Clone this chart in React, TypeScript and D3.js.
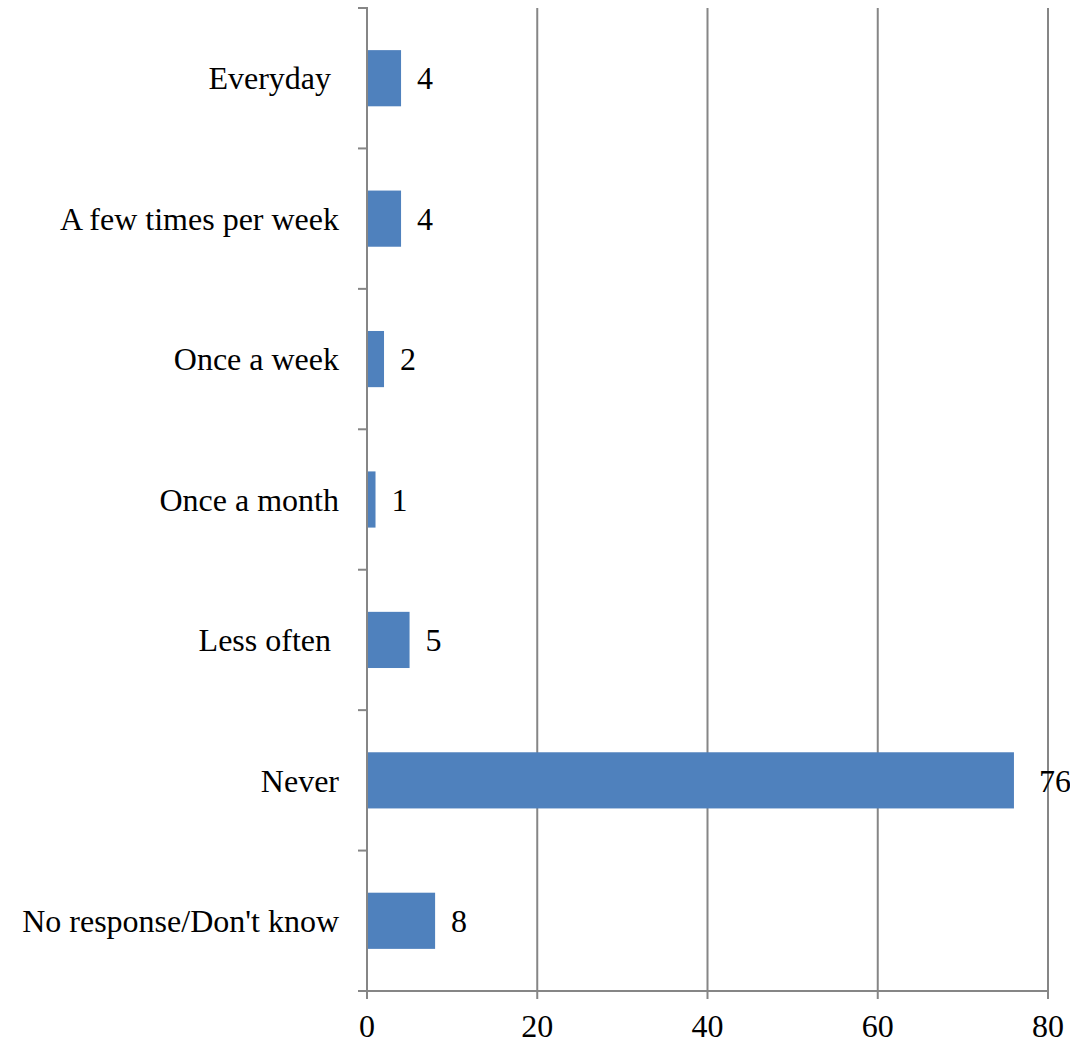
import React from "react";
import * as d3 from "d3";

const categories = [
  "Everyday ",
  "A few times per week",
  "Once a week",
  "Once a month",
  "Less often ",
  "Never",
  "No response/Don't know",
];
const values = [4, 4, 2, 1, 5, 76, 8];
const xTicks = [0, 20, 40, 60, 80];

const W = 1070;
const H = 1043;
const left = 367;
const right = 1048;
const top = 8;
const bottom = 991;
const axisColor = "#868686";
const barColor = "#4F81BD";
const font = "'Liberation Serif', 'Times New Roman', serif";
const fs = 32;

export default function App() {
  const x = d3.scaleLinear().domain([0, 80]).range([left, right]);
  const y = d3
    .scaleBand<string>()
    .domain(categories)
    .range([top, bottom])
    .paddingInner(0.6)
    .paddingOuter(0.3);
  const step = y.step();
  const boundaries = d3.range(categories.length + 1).map((i) => top + i * step);

  return (
    <svg
      width={W}
      height={H}
      style={{ position: "absolute", left: 0, top: 0, background: "#fff" }}
      fontFamily={font}
    >
      {xTicks.slice(1).map((t) => (
        <line key={"g" + t} x1={x(t)} x2={x(t)} y1={top} y2={bottom} stroke={axisColor} strokeWidth={2} />
      ))}
      <line x1={left - 9} x2={right} y1={bottom} y2={bottom} stroke={axisColor} strokeWidth={2} />
      {xTicks.map((t) => (
        <g key={"x" + t}>
          <line x1={x(t)} x2={x(t)} y1={bottom} y2={bottom + 8} stroke={axisColor} strokeWidth={2} />
          <text x={x(t)} y={1037} textAnchor="middle" fontSize={fs} fill="#000">
            {t}
          </text>
        </g>
      ))}
      {categories.map((c, i) => (
        <rect
          key={"b" + i}
          x={x(0)}
          y={y(c)}
          width={x(values[i]) - x(0)}
          height={y.bandwidth()}
          fill={barColor}
        />
      ))}
      <line x1={left} x2={left} y1={top - 1} y2={bottom + 8} stroke={axisColor} strokeWidth={2} />
      {boundaries.map((b, i) => (
        <line key={"t" + i} x1={left - 9} x2={left} y1={b} y2={b} stroke={axisColor} strokeWidth={2} />
      ))}
      {categories.map((c, i) => (
        <text
          key={"c" + i}
          x={339}
          y={(y(c) as number) + y.bandwidth() / 2}
          dy="0.35em"
          textAnchor="end"
          fontSize={fs}
          fill="#000"
          style={{ whiteSpace: "pre" }}
        >
          {c}
        </text>
      ))}
      {categories.map((c, i) => (
        <text
          key={"v" + i}
          x={x(values[i]) + (values[i] > 70 ? 25 : 16)}
          y={(y(c) as number) + y.bandwidth() / 2}
          dy="0.35em"
          textAnchor="start"
          fontSize={fs}
          fill="#000"
        >
          {values[i]}
        </text>
      ))}
    </svg>
  );
}
